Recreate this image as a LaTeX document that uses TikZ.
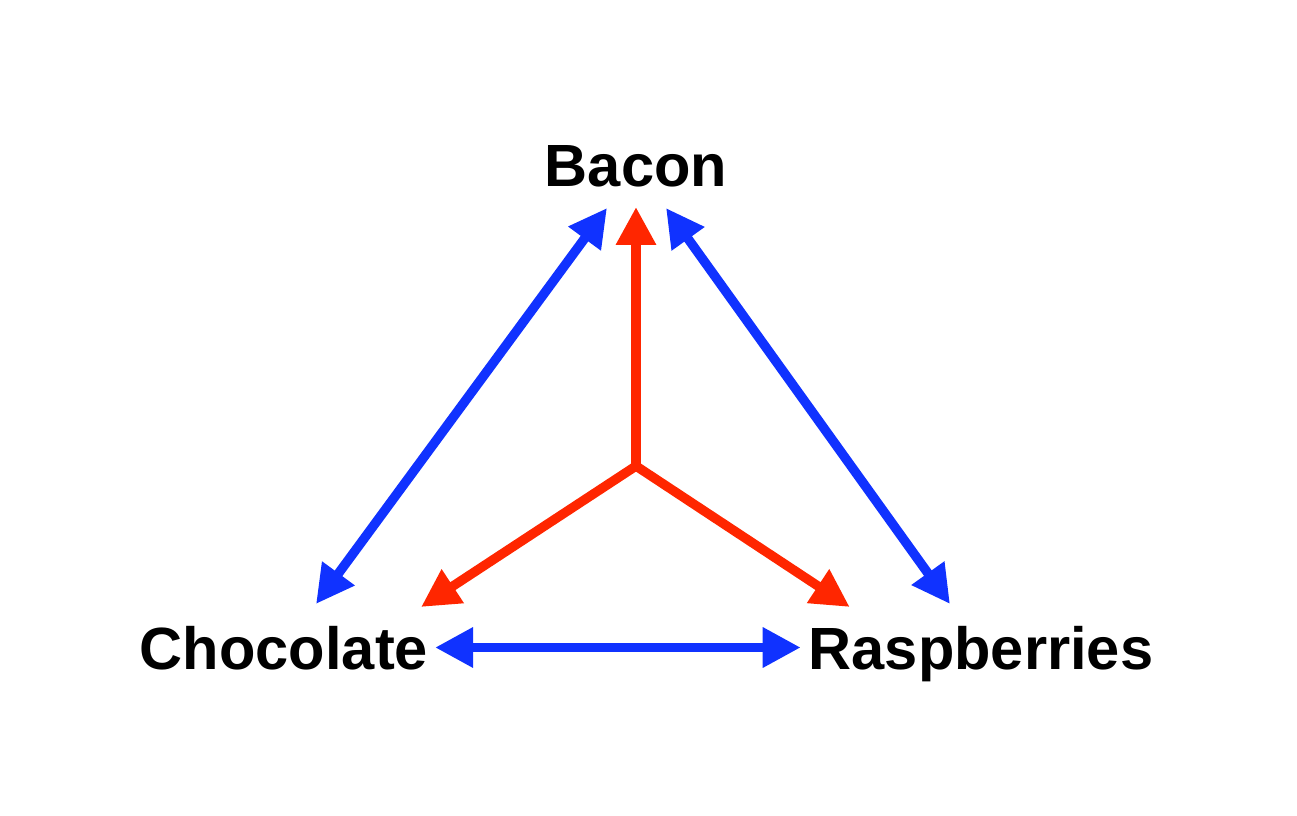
\documentclass[tikz,border=0pt]{standalone}
\usepackage{fontspec}
\setmainfont{Liberation Sans}
\usetikzlibrary{arrows.meta}

\definecolor{hotred}{RGB}{255,38,0}
\definecolor{deepblue}{RGB}{16,50,255}

\begin{document}
\begin{tikzpicture}[x=0.5pt,y=0.5pt,
  food/.style={font=\bfseries\fontsize{29.8}{35}\selectfont, inner sep=0pt, outer sep=0pt,
    text height=21.5pt, text depth=0pt, anchor=base},
  oneway/.style={hotred, line width=4.7pt, -{Triangle[length=19pt,width=19pt]}},
  twoway/.style={deepblue, line width=4.7pt, {Triangle[length=19pt,width=19pt]}-{Triangle[length=19pt,width=19pt]}}]
\useasboundingbox (0,0) rectangle (1297,815);

\node[food] (bacon) at (636,628) {Bacon};
\node[food] (choc) at (284,146) {Chocolate};
\node[food] (rasp) at (981,146) {Raspberries};

\coordinate (hub) at (636,349);

% red: from the middle
\draw[oneway] (hub) -- ([yshift=-10pt]bacon.south);
\draw[oneway] (hub) -- ([shift={(-3.5pt,9.5pt)}]choc.north east);
\draw[oneway] (hub) -- ([shift={(20.5pt,9.5pt)}]rasp.north west);

% blue: between the three
\draw[twoway] ([shift={(-14.5pt,-10.5pt)}]bacon.south) -- ([shift={(16pt,11pt)}]choc.north);
\draw[twoway] ([shift={(15pt,-10.5pt)}]bacon.south) -- ([shift={(-15.5pt,11pt)}]rasp.north);
\draw[twoway] ([xshift=3.5pt]choc.east) -- ([xshift=-4pt]rasp.west);

\end{tikzpicture}
\end{document}
